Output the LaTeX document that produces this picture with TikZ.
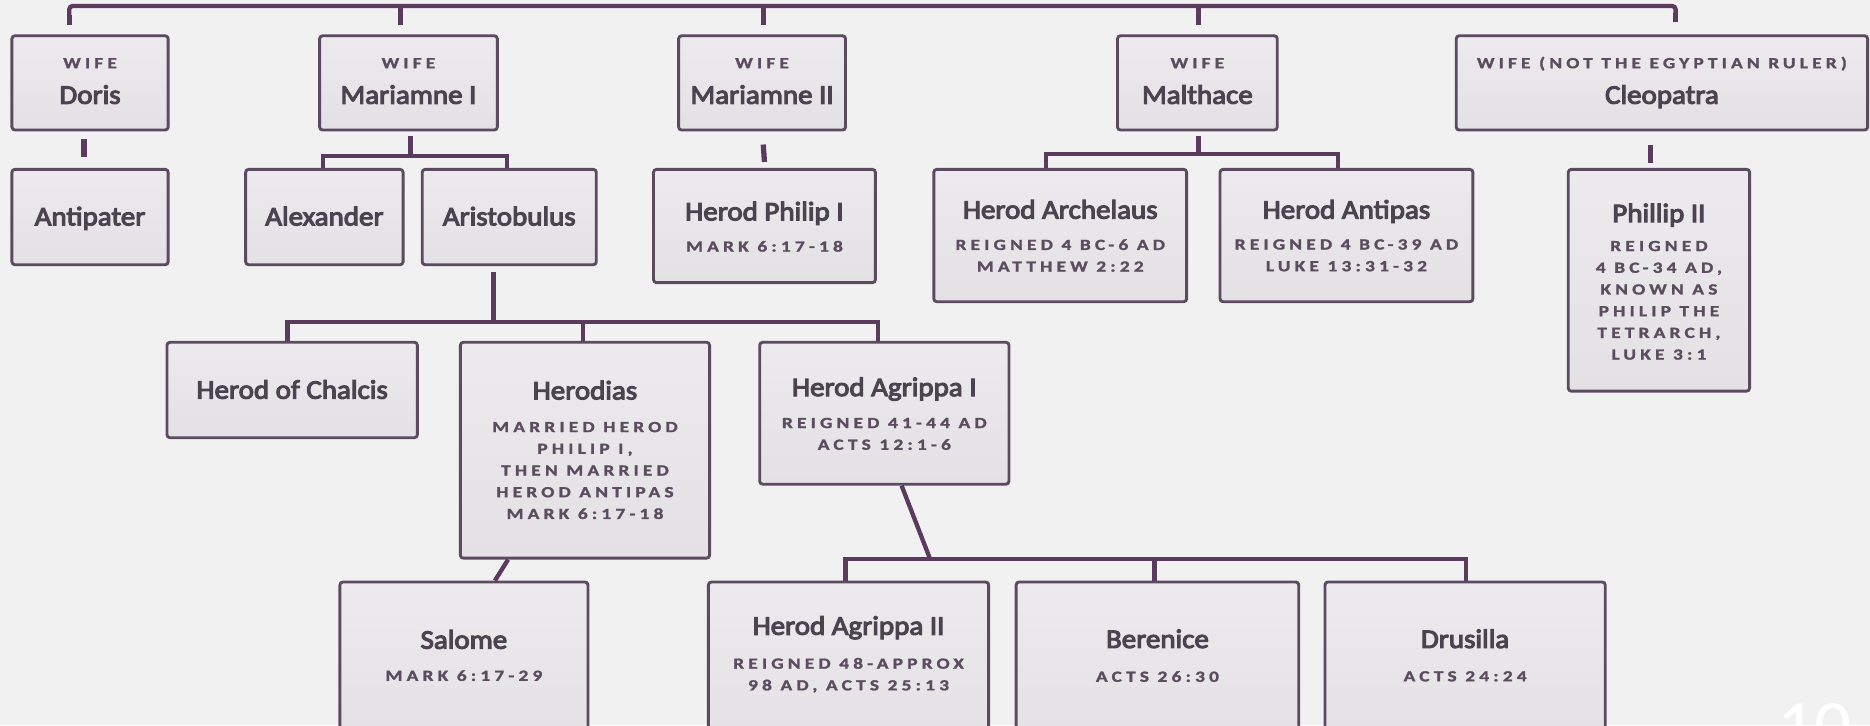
\documentclass[tikz,border=0pt]{standalone}
\usepackage{fontspec}
\setmainfont{Carlito}
\newfontfamily\namefont[FakeStretch=1.08,FakeBold=4]{Carlito}
\newfontfamily\capfont[FakeStretch=1.25,LetterSpace=27,FakeBold=1.5]{Carlito}
\usetikzlibrary{calc}
\definecolor{bg}{HTML}{F2F1F2}
\definecolor{boxtop}{HTML}{ECEAEC}
\definecolor{boxbot}{HTML}{E4E1E5}
\definecolor{boxline}{HTML}{5C4A61}
\definecolor{connc}{HTML}{5A3A5D}
\definecolor{nametext}{HTML}{4C4351}
\definecolor{captext}{HTML}{5B4C60}
\begin{document}
\begin{tikzpicture}[x=1pt,y=-1pt,
  box/.style={draw=boxline, line width=2.4pt, top color=boxtop, bottom color=boxbot, rounded corners=2.5pt, inner sep=0pt},
  nm/.style={font=\namefont\fontsize{22.5}{26}\selectfont, text=nametext, inner sep=0pt, anchor=base},
  cp/.style={font=\capfont\bfseries\fontsize{13}{18.2}\selectfont, text=captext, inner sep=0pt, align=center, anchor=north},
  cpb/.style={font=\capfont\bfseries\fontsize{13}{18.2}\selectfont, text=captext, inner sep=0pt, anchor=base},
  conn/.style={draw=connc, line width=3.6pt},
  stub/.style={draw=connc, line width=4.4pt}]
\fill[bg] (0,0) rectangle (1568,608);
\clip (0,0) rectangle (1568,608);

% ---- wives ----
\node[box, minimum width=131pt, minimum height=79pt] (doris) at (75.5,69.5) {};
\node[cpb] (doris-c) at (75.5,57.2) {WIFE};
\node[nm] (doris-n) at (75.5,87) {Doris};

\node[box, minimum width=149pt, minimum height=79pt] (mar1) at (342.5,69.5) {};
\node[cpb] (mar1-c) at (342.5,57.2) {WIFE};
\node[nm] (mar1-n) at (342.5,87) {Mariamne I};

\node[box, minimum width=140pt, minimum height=79pt] (mar2) at (639,69.5) {};
\node[cpb] (mar2-c) at (639,57.2) {WIFE};
\node[nm] (mar2-n) at (639,87) {Mariamne II};

\node[box, minimum width=134pt, minimum height=79pt] (malt) at (1004,69.5) {};
\node[cpb] (malt-c) at (1004,57.2) {WIFE};
\node[nm] (malt-n) at (1004,87) {Malthace};

\node[box, minimum width=345pt, minimum height=79pt] (cleo) at (1393.5,69.5) {};
\node[cpb] (cleo-c) at (1393.5,57.2) {WIFE (NOT THE EGYPTIAN RULER)};
\node[nm] (cleo-n) at (1393.5,87) {Cleopatra};

% ---- children ----
\node[box, minimum width=131pt, minimum height=80pt] (antip) at (75.5,182) {};
\node[nm] (antip-n) at (75.5,189) {Antipater};

\node[box, minimum width=132pt, minimum height=80pt] (alex) at (272,182) {};
\node[nm] (alex-n) at (272,189) {Alexander};

\node[box, minimum width=146pt, minimum height=80pt] (aristo) at (427,182) {};
\node[nm] (aristo-n) at (427,189) {Aristobulus};

\node[box, minimum width=186pt, minimum height=95pt] (philip1) at (641,189.5) {};
\node[nm] (philip1-n) at (641,184.8) {Herod Philip I};
\node[cp] (philip1-c) at (641,201.8) {MARK 6:17-18};

\node[box, minimum width=212pt, minimum height=111pt] (arch) at (889,197.5) {};
\node[nm] (arch-n) at (889,183.3) {Herod Archelaus};
\node[cp] (arch-c) at (889,200.5) {REIGNED 4 BC-6 AD\\MATTHEW 2:22};

\node[box, minimum width=212pt, minimum height=111pt] (antipas) at (1129,197.5) {};
\node[nm] (antipas-n) at (1129,183.3) {Herod Antipas};
\node[cp] (antipas-c) at (1129,200.5) {REIGNED 4 BC-39 AD\\LUKE 13:31-32};

\node[box, minimum width=152pt, minimum height=186pt] (phil2) at (1391,235) {};
\node[nm] (phil2-n) at (1391,186.3) {Phillip II};
\node[cp] (phil2-c) at (1391,201.8) {REIGNED\\4 BC-34 AD,\\KNOWN AS\\PHILIP THE\\TETRARCH,\\LUKE 3:1};

% ---- grandchildren ----
\node[box, minimum width=210pt, minimum height=80pt] (chalcis) at (245,327) {};
\node[nm] (chalcis-n) at (245,334.3) {Herod of Chalcis};

\node[box, minimum width=209pt, minimum height=181pt] (herodias) at (490.5,377.5) {};
\node[nm] (herodias-n) at (490.5,334.9) {Herodias};
\node[cp] (herodias-c) at (490.5,353.6) {MARRIED HEROD\\PHILIP I,\\THEN MARRIED\\HEROD ANTIPAS\\MARK 6:17-18};

\node[box, minimum width=209pt, minimum height=119pt] (agr1) at (741.5,346.5) {};
\node[nm] (agr1-n) at (741.5,332.1) {Herod Agrippa I};
\node[cp] (agr1-c) at (741.5,350.2) {REIGNED 41-44 AD\\ACTS 12:1-6};

% ---- great-grandchildren ----
\node[box, minimum width=208pt, minimum height=142pt] (salome) at (389,559) {};
\node[nm] (salome-n) at (389,543.9) {Salome};
\node[cp] (salome-c) at (389,561.8) {MARK 6:17-29};

\node[box, minimum width=235pt, minimum height=142pt] (agr2) at (711.5,559) {};
\node[nm] (agr2-n) at (711.5,532.2) {Herod Agrippa II};
\node[cp] (agr2-c) at (711.5,551.5) {REIGNED 48-APPROX\\98 AD, ACTS 25:13};

\node[box, minimum width=237pt, minimum height=142pt] (beren) at (970.5,559) {};
\node[nm] (beren-n) at (970.5,543.3) {Berenice};
\node[cp] (beren-c) at (970.5,562.6) {ACTS 26:30};

\node[box, minimum width=235pt, minimum height=142pt] (drus) at (1228.5,559) {};
\node[nm] (drus-n) at (1228.5,543.3) {Drusilla};
\node[cp] (drus-c) at (1228.5,562.6) {ACTS 24:24};

\node[text=white, inner sep=0pt, anchor=north west, font=\fontsize{62}{62}\selectfont] (pgnum) at (1490,590) {10};

% ---- connectors ----
\coordinate (top) at (0,5);
\coordinate (b1) at (0,131);
\coordinate (b2) at (0,129);
\coordinate (b3) at (0,270);
\coordinate (b4) at (0,469);
\coordinate (j4) at (780,469);

\draw[conn, rounded corners=3pt] ([xshift=-17.5pt,yshift=10pt]doris.north) -- ([xshift=-17.5pt]doris.north |- top)
  -- ([xshift=11.5pt]cleo.north |- top) -- ([xshift=11.5pt,yshift=12pt]cleo.north);
\draw[stub] ([xshift=-17.5pt,yshift=8pt]doris.north) -- ++(0,-8);
\draw[stub] ([xshift=11.5pt,yshift=10pt]cleo.north) -- ++(0,-8);
\draw[stub] ([xshift=-6.5pt]mar1.north |- top) -- ([xshift=-6.5pt,yshift=8pt]mar1.north);
\draw[stub] ([xshift=1pt]mar2.north |- top) -- ([xshift=1pt,yshift=8pt]mar2.north);
\draw[stub] ([xshift=1pt]malt.north |- top) -- ([xshift=1pt,yshift=8pt]malt.north);

\draw[stub] ([xshift=-5pt,yshift=-6pt]doris.south) -- ([xshift=-5pt,yshift=9pt]antip.north);

\draw[stub] ([xshift=2pt,yshift=-4pt]mar1.south) -- ([xshift=2pt]mar1.south |- b1);
\draw[conn] ([xshift=-1pt]alex.north) -- ([xshift=-1pt]alex.north |- b1) -- ([xshift=-2pt]aristo.north |- b1) -- ([xshift=-2pt]aristo.north);

\draw[stub] ([xshift=1pt,yshift=-11pt]mar2.south) -- ([yshift=5pt]philip1.north);

\draw[stub] ([xshift=1pt,yshift=-4pt]malt.south) -- ([xshift=1pt]malt.south |- b2);
\draw[conn] ([xshift=-12pt]arch.north) -- ([xshift=-12pt]arch.north |- b2) -- ([xshift=-7pt]antipas.north |- b2) -- ([xshift=-7pt]antipas.north);

\draw[stub] ([xshift=-9.5pt,yshift=-11pt]cleo.south) -- ([xshift=-7pt,yshift=4pt]phil2.north);

\draw[stub] ([xshift=-13.5pt,yshift=-5pt]aristo.south) -- ([xshift=-13.5pt]aristo.south |- b3);
\draw[conn] ([xshift=-4pt]chalcis.north) -- ([xshift=-4pt]chalcis.north |- b3) -- ([xshift=-5.5pt]agr1.north |- b3) -- ([xshift=-5.5pt]agr1.north);
\draw[conn] ([xshift=-1.5pt]herodias.north) -- ([xshift=-1.5pt]herodias.north |- b3);

\draw[conn] ([xshift=-64.5pt]herodias.south) -- ([xshift=26pt]salome.north);

\draw[conn] ([xshift=14.5pt]agr1.south) -- (j4);
\draw[conn] ([xshift=-2.5pt]agr2.north) -- ([xshift=-2.5pt]agr2.north |- b4) -- ([xshift=0.5pt]drus.north |- b4) -- ([xshift=0.5pt]drus.north);
\draw[conn] ([xshift=-2.5pt]beren.north) -- ([xshift=-2.5pt]beren.north |- b4);
\end{tikzpicture}
\end{document}
